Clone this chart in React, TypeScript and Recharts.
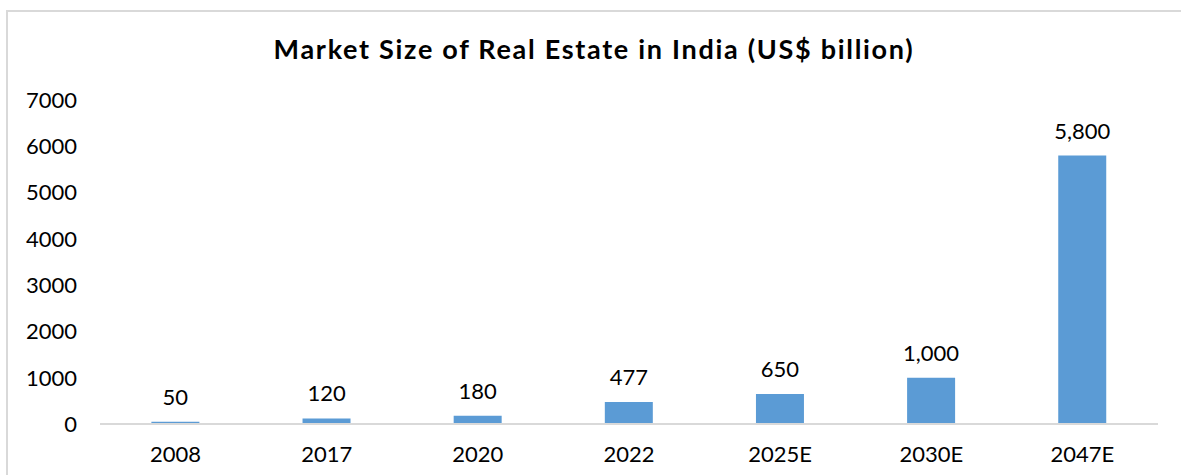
import { BarChart, Bar, XAxis, YAxis, LabelList } from 'recharts';

const years = ['2008', '2017', '2020', '2022', '2025E', '2030E', '2047E'];
const marketSize = [50, 120, 180, 477, 650, 1000, 5800];
const yTicks = [0, 1000, 2000, 3000, 4000, 5000, 6000, 7000];

const chartData = years.map((year, i) => ({ year, value: marketSize[i] }));

const FONT = 'Lato, "Open Sans", sans-serif';

export default function App() {
  return (
    <div
      style={{
        position: 'absolute',
        left: 0,
        top: 0,
        width: 1181,
        height: 475,
        overflow: 'hidden',
        background: '#fff',
        fontFamily: FONT,
      }}
    >
      {/* outer frame, only top and left edges show in the crop */}
      <div
        style={{
          position: 'absolute',
          left: 6,
          top: 10,
          width: 1300,
          height: 600,
          borderTop: '2px solid #d9d9d9',
          borderLeft: '2px solid #d9d9d9',
        }}
      />
      <div
        style={{
          position: 'absolute',
          left: 0,
          top: 33,
          width: 1188,
          textAlign: 'center',
          fontSize: 27,
          fontWeight: 700,
          letterSpacing: 1.7,
          color: '#000',
          lineHeight: '32px',
        }}
      >
        Market Size of Real Estate in India (US$ billion)
      </div>
      <div style={{ position: 'absolute', left: 0, top: 0 }}>
        <BarChart
          width={1181}
          height={475}
          data={chartData}
          margin={{ top: 100, right: 23, bottom: 0, left: 0 }}
          barCategoryGap="34%"
        >
          <YAxis
            width={100}
            domain={[0, 7000]}
            ticks={yTicks}
            axisLine={false}
            tickLine={false}
            tickMargin={17}
            tick={{ fill: '#000', fontSize: 22, fontFamily: FONT }}
            interval={0}
          />
          <XAxis
            dataKey="year"
            height={51}
            tickLine={false}
            axisLine={{ stroke: '#d9d9d9', strokeWidth: 2 }}
            tickMargin={16}
            tick={{ fill: '#000', fontSize: 22, fontFamily: FONT }}
            interval={0}
          />
          <Bar dataKey="value" fill="#5b9bd5" isAnimationActive={false}>
            <LabelList
              dataKey="value"
              position="top"
              offset={17}
              formatter={(v: number) => v.toLocaleString('en-US')}
              style={{ fill: '#000', fontSize: 22, fontFamily: FONT }}
            />
          </Bar>
        </BarChart>
      </div>
    </div>
  );
}
